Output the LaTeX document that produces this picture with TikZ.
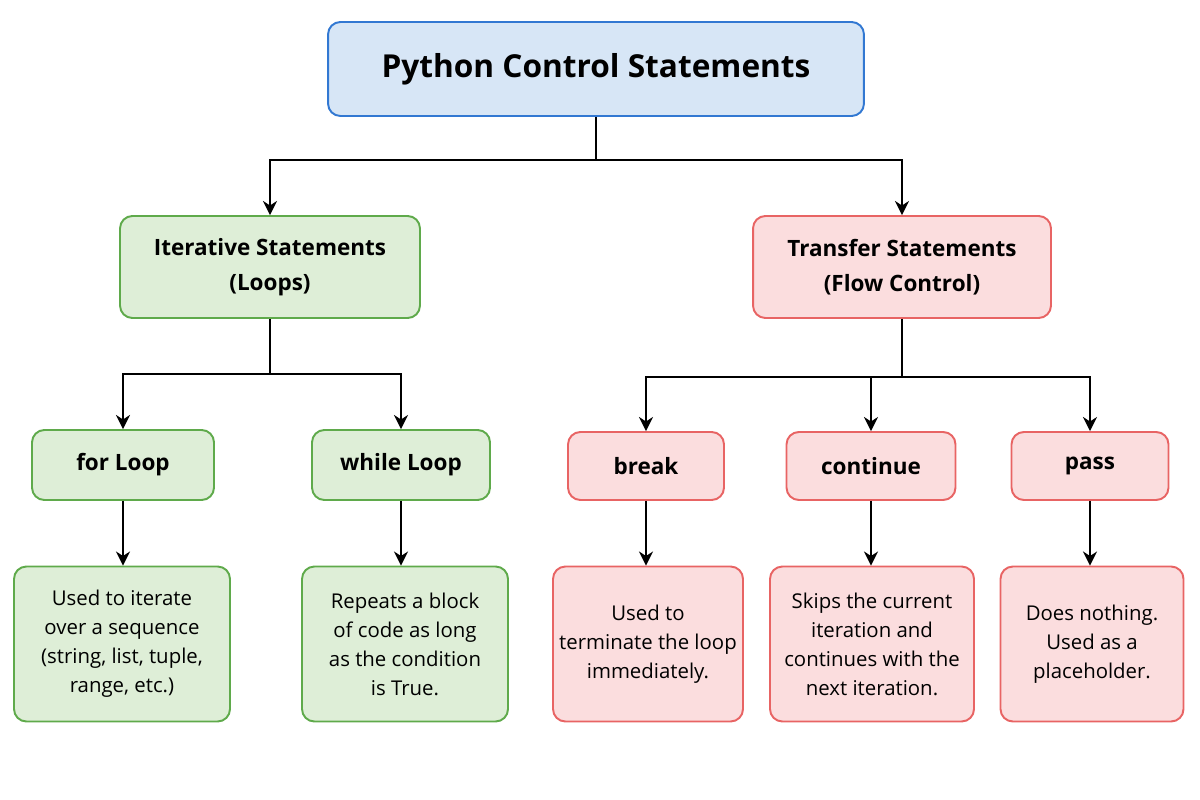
\documentclass[tikz,border=0pt]{standalone}
\usepackage{fontspec}
\setmainfont{Open Sans}
\definecolor{TitleFill}{RGB}{215,230,246}
\definecolor{TitleLine}{RGB}{50,120,210}
\definecolor{LoopFill}{RGB}{222,238,215}
\definecolor{LoopLine}{RGB}{95,170,75}
\definecolor{JumpFill}{RGB}{251,221,222}
\definecolor{JumpLine}{RGB}{232,100,100}
\usetikzlibrary{positioning, arrows.meta, calc}
\tikzstyle{box} = [draw, line width=1.1pt, rounded corners=7pt, align=center, text=black, inner sep=2pt]
\tikzstyle{titlebox} = [box, draw=TitleLine, fill=TitleFill, font=\fontsize{18}{22}\selectfont\bfseries]
\tikzstyle{loopbox} = [box, draw=LoopLine, fill=LoopFill]
\tikzstyle{jumpbox} = [box, draw=JumpLine, fill=JumpFill]
\tikzstyle{head} = [font=\fontsize{12.8}{20}\selectfont\bfseries]
\tikzstyle{desc} = [font=\fontsize{11.6}{16.5}\selectfont, minimum height=3.1cm]
\tikzstyle{arrow} = [line width=1.3pt, black, -{Stealth[length=8pt,width=8pt]}]
\begin{document}
\begin{tikzpicture}[x=0.02cm, y=-0.02cm]
    \useasboundingbox (0,0) rectangle (1200,800);
    % Title
    \node[titlebox, minimum width=10.72cm, minimum height=1.88cm] (title) at (596,69) {Python Control Statements};

    % Main groups
    \node[loopbox, head, minimum width=6cm, minimum height=2.04cm] (iter) at (270,267) {Iterative Statements\\(Loops)};
    \node[jumpbox, head, minimum width=5.96cm, minimum height=2.04cm] (trans) at (902,267) {Transfer Statements\\(Flow Control)};

    % Statements
    \node[loopbox, head, minimum width=3.64cm, minimum height=1.4cm] (forloop) at (123,465) {for Loop};
    \node[loopbox, head, minimum width=3.56cm, minimum height=1.4cm] (whileloop) at (401,465) {while Loop};
    \node[jumpbox, head, minimum width=3.12cm, minimum height=1.36cm] (break) at (646,466) {break};
    \node[jumpbox, head, minimum width=3.38cm, minimum height=1.36cm] (continue) at (871,466) {continue};
    \node[jumpbox, head, minimum width=3.14cm, minimum height=1.36cm] (pass) at (1090,466) {pass};

    % Descriptions
    \node[loopbox, desc, minimum width=4.32cm] (forinfo) at (122,644) {Used to iterate\\over a sequence\\(string, list, tuple,\\range, etc.)};
    \node[loopbox, desc, minimum width=4.12cm] (whileinfo) at (405,644) {Repeats a block\\of code as long\\as the condition\\is True.};
    \node[jumpbox, desc, minimum width=3.8cm] (breakinfo) at (648,644) {Used to\\terminate the loop\\immediately.};
    \node[jumpbox, desc, minimum width=4.08cm] (continueinfo) at (872,644) {Skips the current\\iteration and\\continues with the\\next iteration.};
    \node[jumpbox, desc, minimum width=3.66cm] (passinfo) at (1092,644) {Does nothing.\\Used as a\\placeholder.};

    % Junctions
    \coordinate (j1) at (596,160);
    \coordinate (j2) at (270,374);
    \coordinate (j3) at (902,377);

    % Connectors
    \draw[arrow] (title.south) -- (j1) -| (iter.north);
    \draw[arrow] (j1) -| (trans.north);
    \draw[arrow] (iter.south) -- (j2) -| (forloop.north);
    \draw[arrow] (j2) -| (whileloop.north);
    \draw[arrow] (trans.south) -- (j3) -| (break.north);
    \draw[arrow] (j3) -| (continue.north);
    \draw[arrow] (j3) -| (pass.north);
    \draw[arrow] (forloop) -- (forloop |- forinfo.north);
    \draw[arrow] (whileloop) -- (whileloop |- whileinfo.north);
    \draw[arrow] (break) -- (break |- breakinfo.north);
    \draw[arrow] (continue) -- (continue |- continueinfo.north);
    \draw[arrow] (pass) -- (pass |- passinfo.north);
\end{tikzpicture}
\end{document}
